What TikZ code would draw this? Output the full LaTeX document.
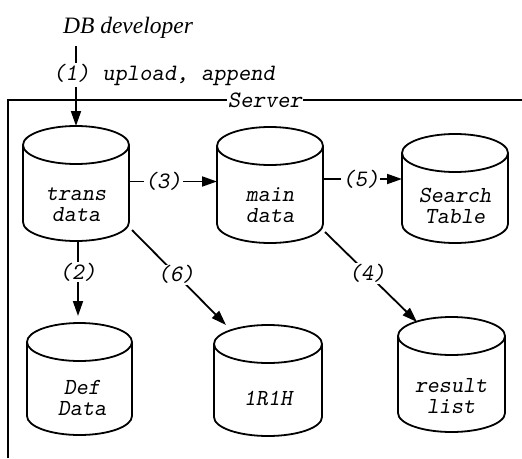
\documentclass[tikz,border=0pt]{standalone}
\usepackage{fontspec}
\newfontfamily\serifit{Liberation Serif}
\usetikzlibrary{arrows.meta}
\tikzset{
  cylline/.style={line width=1.8pt, line join=round},
  cylbox/.style={inner sep=0pt, outer sep=0pt},
  cyltext/.style={font=\fontsize{23}{21}\selectfont\ttfamily\slshape, align=center, inner sep=0pt},
  arr/.style={line width=1.8pt, -{Triangle[length=15pt,width=10pt]}},
  lbl/.style={font=\fontsize{23.5}{21}\selectfont\ttfamily\slshape, fill=white, inner sep=1pt},
  frameline/.style={line width=1.4pt},
  devtext/.style={font=\fontsize{23.5}{26}\selectfont\serifit\itshape, inner sep=0pt},
}
\newcommand\dbcyl[8]{%
  \draw[cylline] (#2,{-(#4+19)}) arc[start angle=180,end angle=-180,x radius={(#3-#2)/2},y radius=19]
    -- (#2,{-(#5-19)}) arc[start angle=180,end angle=360,x radius={(#3-#2)/2},y radius=19] -- (#3,{-(#4+19)});
  \node[cylbox,minimum width={(#3-#2)*1pt},minimum height={(#5-#4)*1pt}] (#1) at ({(#2+#3)/2},{-(#4+#5)/2}) {};
  \node[cyltext] (#1t) at (#6,-#7) {#8};
}
\begin{document}
\begin{tikzpicture}[x=1pt,y=1pt]
\useasboundingbox (0,0) rectangle (522,-458);
% frame
\draw[frameline] (8,-458) -- (8,-100) -- (522,-100);
\node[lbl] (srv) at (265,-100) {Server};
% developer
\node[devtext] (dev) at (128,-28) {DB developer};
\coordinate (c1) at (76,-46);
% cylinders
\dbcyl{td}{23}{129}{126}{241}{76}{205}{trans\\data}
\dbcyl{md}{217}{323}{127}{243}{270}{205}{main\\data}
\dbcyl{st}{402}{508}{134}{243}{455}{206}{Search\\Table}
\dbcyl{dd}{27}{132}{323}{435}{82}{398}{Def\\Data}
\dbcyl{r1}{214}{322}{325}{436}{268}{398}{1R1H}
\dbcyl{rl}{398}{505}{317}{432}{451}{396}{result\\list}
% connectors
\draw[arr] (c1) -- (c1 |- td.north);
\node[lbl] (l1) at (164,-75) {(1) upload, append};
\draw[arr, shorten >=7pt] ([xshift=2pt]td.south) -- ([xshift=2pt]td.south |- dd.north) node[lbl,pos=0.38] (l2) {(2)};
\draw[arr] ([yshift=2pt]td.east) -- ([yshift=2pt]td.east -| md.west) node[lbl,pos=0.39] (l3) {(3)};
\draw[arr] ([yshift=6pt]md.east) -- ([yshift=6pt]md.east -| st.west) node[lbl,pos=0.48] (l5) {(5)};
\draw[arr] ([xshift=3pt,yshift=11pt]td.south east) -- ([xshift=12pt]r1.north west) node[lbl,pos=0.47] (l6) {(6)};
\draw[arr] ([xshift=2pt,yshift=11pt]md.south east) -- ([xshift=19pt,yshift=-5pt]rl.north west) node[lbl,pos=0.46] (l4) {(4)};
\end{tikzpicture}
\end{document}
